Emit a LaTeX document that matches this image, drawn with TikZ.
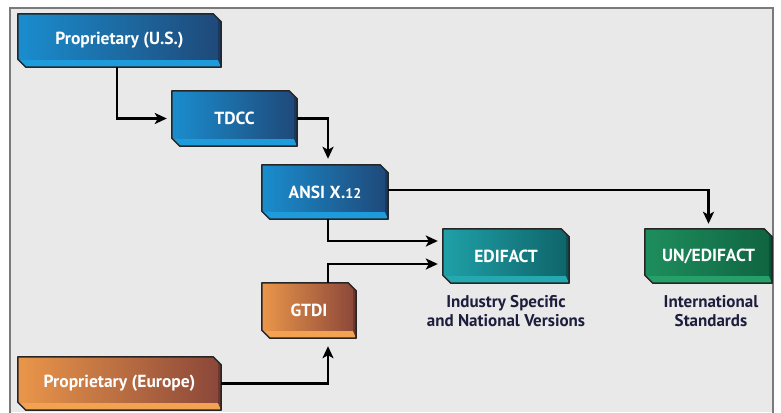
\documentclass[tikz,border=0pt]{standalone}
\usepackage{fontspec}
\setmainfont{PT Sans}
\usetikzlibrary{arrows.meta,calc,backgrounds}
\definecolor{bgray}{HTML}{E9E9E9}
\definecolor{frame}{HTML}{7A7A7A}
\definecolor{blueL}{HTML}{1A8DCE}
\definecolor{blueD}{HTML}{1F4878}
\definecolor{blueB}{HTML}{1E9BDA}
\definecolor{tealL}{HTML}{1FA0A8}
\definecolor{tealD}{HTML}{0E6468}
\definecolor{tealB}{HTML}{25A9B0}
\definecolor{grnL}{HTML}{1E8E5E}
\definecolor{grnD}{HTML}{0F6440}
\definecolor{grnB}{HTML}{25A068}
\definecolor{orL}{HTML}{EA964A}
\definecolor{orD}{HTML}{8A4639}
\definecolor{orB}{HTML}{F2A250}
\definecolor{navy}{HTML}{1C1E3C}
\newcommand\edishape[4]{%
  \path (#1.north west) coordinate (tl) (#1.south east) coordinate (br);
  \shade[left color=#2,right color=#3]
    let \p1=(tl),\p2=(br) in
    (\x1,\y1) -- (\x2-8pt,\y1) -- (\x2,\y1-8pt) -- (\x2,\y2) -- (\x1+8pt,\y2) -- (\x1,\y2+8pt) -- cycle;
  \fill[#4] let \p1=(tl),\p2=(br) in
    (\x1+1pt,\y2+7pt) -- (\x2-3pt,\y2+7pt) -- (\x2,\y2) -- (\x1+8pt,\y2) -- cycle;
  \fill[#3!80!black] let \p1=(tl),\p2=(br) in
    (\x2-3pt,\y1-5pt) -- (\x2,\y1-8pt) -- (\x2,\y2) -- (\x2-3pt,\y2+7pt) -- cycle;
  \draw[line width=1.5pt,draw=black!85,line join=round] let \p1=(tl),\p2=(br) in
    (\x1,\y1) -- (\x2-8pt,\y1) -- (\x2,\y1-8pt) -- (\x2,\y2) -- (\x1+8pt,\y2) -- (\x1,\y2+8pt) -- cycle;
}
\begin{document}
\begin{tikzpicture}[x=1pt,y=-1pt,
  ebox/.style={inner sep=0pt,minimum height=54pt,text=white,
    font=\fontsize{17.5}{20}\selectfont\bfseries},
  lbl/.style={align=center,text=navy,inner sep=0pt,
    font=\fontsize{17}{19.5}\selectfont\bfseries},
  conn/.style={line width=2.8pt,-{Stealth[length=12pt,width=11pt,inset=3pt]},shorten >=5pt}]
\useasboundingbox (0,0) rectangle (781,412);
\begin{scope}[on background layer]
  \fill[white] (0,0) rectangle (781,412);
  \fill[bgray] (10,8) rectangle (773,412);
  \draw[frame,line width=1.5pt] (10,414) -- (10,8) -- (773,8) -- (773,414);
\end{scope}
\node[ebox,minimum width=203pt,minimum height=53pt] (us) at (119.5,40.5) {Proprietary (U.S.)};
\node[ebox,minimum width=125pt,minimum height=55pt] (tdcc) at (234.5,118.5) {TDCC};
\node[ebox,minimum width=126pt] (ansi) at (325,192) {ANSI X\kern.5pt.{\fontsize{14}{16}\selectfont12}};
\node[ebox,minimum width=126pt] (edi) at (506,256) {EDIFACT};
\node[ebox,minimum width=127pt] (un) at (708.5,256) {UN/EDIFACT};
\node[ebox,minimum width=94pt,minimum height=55pt] (gtdi) at (309,310.5) {GTDI};
\node[ebox,minimum width=203pt,minimum height=53pt] (eu) at (119.5,383.5) {Proprietary (Europe)};
\node[lbl] (l1) at (506,311) {Industry Specific\\and National Versions};
\node[lbl] (l2) at (711,311) {International\\Standards};
\begin{scope}[on background layer]
  \edishape{us}{blueL}{blueD}{blueB}
  \edishape{tdcc}{blueL}{blueD}{blueB}
  \edishape{ansi}{blueL}{blueD}{blueB}
  \edishape{edi}{tealL}{tealD}{tealB}
  \edishape{un}{grnL}{grnD}{grnB}
  \edishape{gtdi}{orL}{orD}{orB}
  \edishape{eu}{orL}{orD}{orB}
\end{scope}
\draw[conn] ([xshift=-2.5pt]us.south) |- (tdcc.west);
\draw[conn,shorten >=6pt] (tdcc.east) -| ([xshift=3pt]ansi.north);
\draw[conn] ([yshift=2pt]ansi.east) -| (un.north);
\draw[conn] ([xshift=3pt]ansi.south) |- ([yshift=15pt]edi.west);
\draw[conn] ([xshift=19pt]gtdi.north) |- ([yshift=-8pt]edi.west);
\draw[conn,shorten >=8pt] (eu.east) -| ([xshift=19pt]gtdi.south);
\end{tikzpicture}
\end{document}
